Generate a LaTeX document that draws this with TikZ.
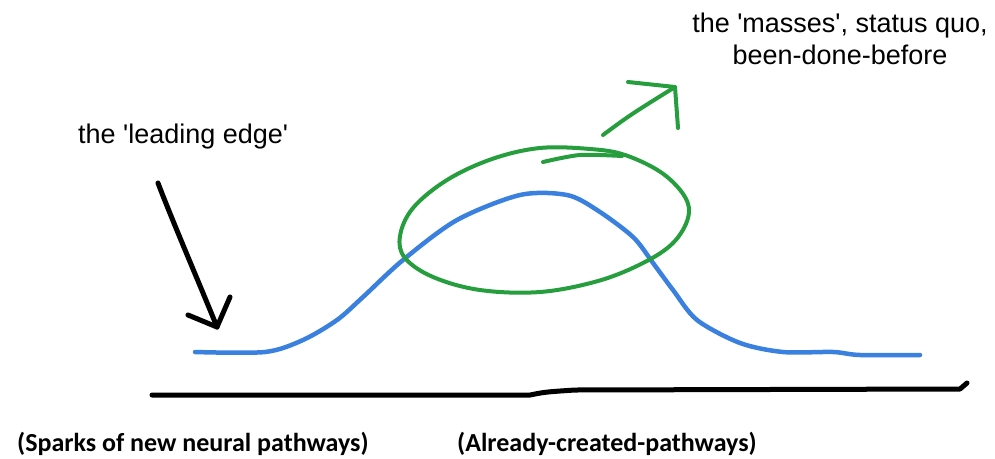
\documentclass[tikz,border=0pt]{standalone}
\usepackage{fontspec}
\setmainfont{Liberation Sans}
\newfontfamily\calibri{Carlito}
\usepackage{tikz}
\definecolor{sketchblue}{RGB}{58,128,222}
\definecolor{sketchgreen}{RGB}{38,158,62}

\begin{document}
\begin{tikzpicture}[x=1pt, y=-1pt, line cap=round, line join=round,
        note/.style = {font=\fontsize{27}{32}\selectfont, inner sep=0pt},
        caption/.style = {font=\calibri\bfseries\fontsize{26}{30}\selectfont, inner sep=0pt, anchor=base west},
        pen/.style = {line width=5pt},
        curve/.style = {line width=4.5pt, draw=sketchblue},
        loop/.style = {line width=4pt, draw=sketchgreen}]

        \useasboundingbox (0,0) rectangle (995,458);

        \node[note, anchor=base west] (edge) at (78,143) {the \textquotesingle leading edge\textquotesingle};
        \node[note, align=center, anchor=base] (masses) at (840,64) {the \textquotesingle masses\textquotesingle, status quo,\\been-done-before};
        \node[caption] (sparks) at (17,451) {(Sparks of new neural pathways)};
        \node[caption] (created) at (457,451) {(Already-created-pathways)};

        \coordinate (dropstart) at (158,183);
        \coordinate (droptip) at (217,327);
        \coordinate (rise) at (603,135);
        \coordinate (risetip) at (675,87);

        % axis
        \draw[pen] (152,395) -- (530,395) .. controls (545,392) .. (575,390) -- (960,389) -- (967,383);

        % bell curve
        \draw[curve] plot[smooth, tension=0.5] coordinates {(195,352) (265,352) (303,340) (337,320) (363,297) (403,260) (457,220) (520,195) (567,195) (597,210) (633,237) (653,263) (673,290) (697,320) (740,343) (783,352) (833,352) (860,355) (920,355)};

        % circled top
        \draw[loop] plot[smooth cycle, tension=0.6] coordinates {(625,155) (662,173) (685,197) (688,218) (673,243) (643,263) (598,281) (540,292) (480,290) (433,277) (405,258) (400,236) (413,208) (447,180) (492,159) (540,148) (590,149)};
        \draw[loop] plot[smooth] coordinates {(543,162) (580,155) (622,156)};

        % arrows
        \draw[loop] (rise) .. controls (630,115) .. (risetip);
        \draw[loop] (628,82) -- (risetip) -- (678,128);
        \draw[pen] (dropstart) .. controls (172,220) and (200,285) .. (droptip);
        \draw[pen] (188,315) -- (droptip) -- (230,297);

\end{tikzpicture}
\end{document}
